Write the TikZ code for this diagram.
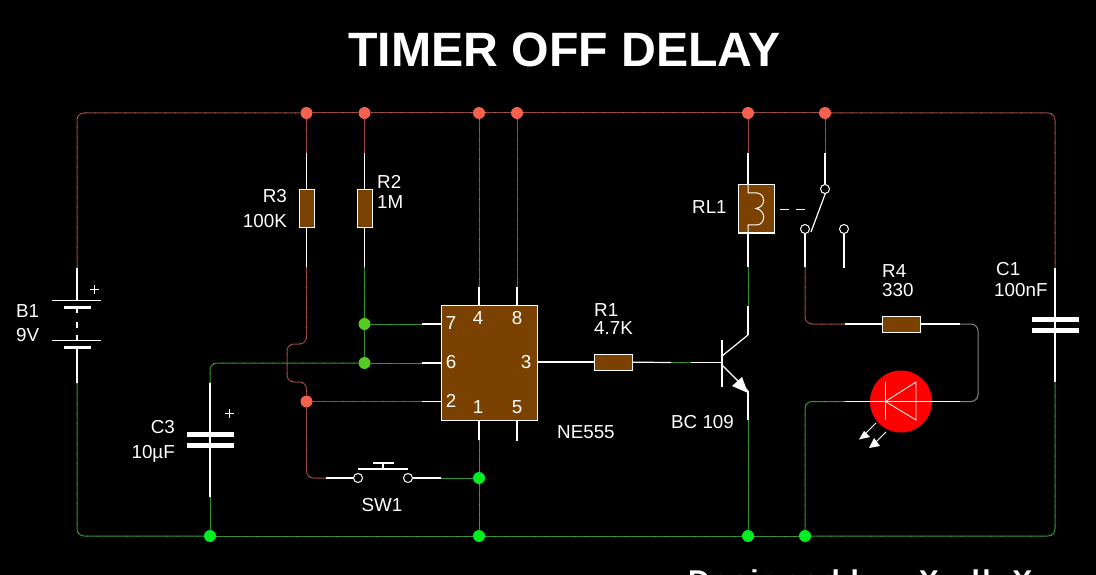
\documentclass[tikz,border=0pt]{standalone}
\usepackage{fontspec}
\setmainfont{Liberation Sans}
\definecolor{wirered}{HTML}{94443C}
\definecolor{wiregreen}{HTML}{2F8F2F}
\definecolor{wiregrey}{HTML}{7F8A72}
\definecolor{flecklight}{HTML}{D8C8B8}
\definecolor{dotred}{HTML}{F5614C}
\definecolor{dotlime}{HTML}{55CC22}
\definecolor{dotgreen}{HTML}{00EE22}
\definecolor{partbrown}{HTML}{7A4100}
\tikzset{
  fleck/.style={postaction={draw=flecklight, draw opacity=0.4, line width=1pt, dash pattern=on 1pt off 9pt}},
  redwire/.style={wirered, line width=1pt, rounded corners=7pt, fleck},
  greenwire/.style={wiregreen, line width=1pt, rounded corners=7pt, fleck},
  greywire/.style={wiregrey, line width=1pt, rounded corners=7pt},
  whitewire/.style={white, line width=1.2pt},
  reddot/.style={circle, fill=dotred, inner sep=0pt, minimum size=12pt},
  limedot/.style={circle, fill=dotlime, inner sep=0pt, minimum size=12pt},
  greendot/.style={circle, fill=dotgreen, inner sep=0pt, minimum size=12pt},
  part/.style={draw=white, fill=partbrown, line width=1pt, inner sep=0pt, outer sep=0pt},
  contact/.style={circle, draw=white, fill=black, line width=1pt, inner sep=0pt, minimum size=9pt},
  lbl/.style={text=white, inner sep=0pt, font=\fontsize{18.8}{20}\selectfont},
  pinlbl/.style={lbl, anchor=base},
}
\begin{document}
\begin{tikzpicture}[x=1pt,y=-1pt]
  \fill[black] (0,0) rectangle (1096,575);
  \path[use as bounding box, clip] (0,0) rectangle (1096,575);

  % junctions
  \node[reddot] (dA) at (306.5,113) {};
  \node[reddot] (dB) at (364.5,113) {};
  \node[reddot] (dC) at (479,113) {};
  \node[reddot] (dD) at (517,113) {};
  \node[reddot] (dE) at (748,113) {};
  \node[reddot] (dF) at (825,113) {};
  \node[reddot] (dJ) at (306.5,401.5) {};
  \node[limedot] (dG) at (364.5,324) {};
  \node[limedot] (dH) at (364.5,363) {};
  \node[greendot] (dK) at (479,478) {};
  \node[greendot] (dL) at (479,536) {};
  \node[greendot] (dM) at (210,536) {};
  \node[greendot] (dN) at (748,536) {};
  \node[greendot] (dP) at (805,536) {};

  % parts
  \node[part, minimum width=15pt, minimum height=38pt] (R3) at (306.5,209) {};
  \node[part, minimum width=15pt, minimum height=38pt] (R2) at (364.5,209) {};
  \node[part, minimum width=38pt, minimum height=16pt] (R1) at (613,362) {};
  \node[part, minimum width=38pt, minimum height=16pt] (R4) at (901.5,324) {};
  \node[part, minimum width=96pt, minimum height=115pt] (IC) at (489.5,362.5) {};
  \node[part, minimum width=36pt, minimum height=48pt] (RL1) at (756,209) {};
  \node[circle, fill=red, inner sep=0pt, minimum size=62pt] (LED) at (901,401.5) {};
  \node[contact] (swa) at (358,478) {};
  \node[contact] (swb) at (408,478) {};
  \node[contact] (rla) at (825,189) {};
  \node[contact] (rlb) at (805,229) {};
  \node[contact] (rlc) at (844,229) {};

  % wire ends
  \coordinate (b1t) at (77,268);
  \coordinate (b1b) at (77,383);
  \coordinate (c1t) at (1055,268);
  \coordinate (c1b) at (1055,382);
  \coordinate (c3t) at (210,383);
  \coordinate (c3b) at (210,497);
  \coordinate (r3t) at (306.5,153);
  \coordinate (r3b) at (306.5,267);
  \coordinate (r2t) at (364.5,153);
  \coordinate (r2b) at (364.5,267);
  \coordinate (p4) at (479,287);
  \coordinate (p8) at (517,287);
  \coordinate (p1) at (479,440);
  \coordinate (p5) at (517,441);
  \coordinate (p7) at (422,324);
  \coordinate (p6) at (422,363);
  \coordinate (p2) at (422,401.5);
  \coordinate (swl) at (326,478);
  \coordinate (swr) at (441,478);
  \coordinate (qa) at (671,362.5);
  \coordinate (qb) at (691,362.5);
  \coordinate (qbase) at (722,362.5);
  \coordinate (qc) at (748,335);
  \coordinate (qe) at (748,391);
  \coordinate (qw) at (748,420);
  \coordinate (rlt) at (748,153);
  \coordinate (rlm) at (825,153);
  \coordinate (rlg) at (748,267);
  \coordinate (rlh) at (748,306);
  \coordinate (swo) at (805,267);
  \coordinate (r4l) at (845,324);
  \coordinate (r4r) at (960,324);
  \coordinate (ledl) at (845,401.5);
  \coordinate (ledr) at (960,401.5);

  % supply rails
  \draw[redwire] (b1t) |- (dA);
  \draw[redwire] (dA) -- (dB);
  \draw[redwire] (dB) -- (dC);
  \draw[redwire] (dC) -- (dD);
  \draw[redwire] (dD) -- (dE);
  \draw[redwire] (dE) -- (dF);
  \draw[redwire] (dF) -| (c1t);
  \draw[greenwire] (b1b) |- (dM);
  \draw[greenwire] (dM) -- (dL);
  \draw[greenwire] (dL) -- (dN);
  \draw[greenwire] (dN) -- (dP);
  \draw[greenwire] (dP) -| (c1b);

  % B1
  \draw[whitewire] (b1t) -- (77,300);
  \draw[whitewire] (77,307) -- (77,313);
  \draw[whitewire] (77,322) -- (77,328);
  \draw[whitewire] (77,335) -- (77,340);
  \draw[whitewire] (77,347) -- (b1b);
  \draw[white, line width=1pt] (52,300.5) -- (101,300.5);
  \draw[white, line width=3pt] (64,307.5) -- (91,307.5);
  \draw[white, line width=1pt] (52,340.5) -- (101,340.5);
  \draw[white, line width=3pt] (64,347.5) -- (91,347.5);
  \draw[white, line width=1pt] (90,289.5) -- (99,289.5);
  \draw[white, line width=1pt] (94.5,285) -- (94.5,294);

  % C1
  \draw[whitewire] (c1t) -- (c1b);
  \draw[white, line width=5pt] (1032,319.5) -- (1079,319.5);
  \draw[white, line width=5pt] (1032,330.5) -- (1079,330.5);

  % C3
  \draw[greenwire] (c3t) |- (dH);
  \draw[greenwire] (c3b) -- (dM);
  \draw[whitewire] (c3t) -- (c3b);
  \draw[white, line width=5pt] (187,434.5) -- (234,434.5);
  \draw[white, line width=5pt] (187,445.5) -- (234,445.5);
  \draw[white, line width=1pt] (224.5,413.5) -- (233.5,413.5);
  \draw[white, line width=1pt] (229,409) -- (229,418);

  % R2 R3
  \draw[redwire] (dA) -- (r3t);
  \draw[whitewire] (r3t) -- (R3);
  \draw[whitewire] (R3) -- (r3b);
  \draw[redwire] (r3b) -- (306.5,344) -- (287,344) -- (287,382) -- (306.5,382) -- (dJ);
  \draw[redwire] (dB) -- (r2t);
  \draw[whitewire] (r2t) -- (R2);
  \draw[whitewire] (R2) -- (r2b);
  \draw[greenwire] (r2b) -- (dG);
  \draw[greenwire] (dG) -- (dH);

  % NE555
  \draw[greenwire] (dG) -- (p7);
  \draw[whitewire] (p7) -- (p7 -| IC.west);
  \draw[greenwire] (dH) -- (p6);
  \draw[whitewire] (p6) -- (p6 -| IC.west);
  \draw[redwire] (dJ) -- (p2);
  \draw[whitewire] (p2) -- (p2 -| IC.west);
  \draw[redwire] (dC) -- (p4);
  \draw[whitewire] (p4) -- (p4 |- IC.north);
  \draw[redwire] (dD) -- (p8);
  \draw[whitewire] (p8) -- (p8 |- IC.north);
  \draw[whitewire] (p1 |- IC.south) -- (p1);
  \draw[greenwire] (p1) -- (dK);
  \draw[greenwire] (dK) -- (dL);
  \draw[whitewire] (p5 |- IC.south) -- (p5);

  % SW1
  \draw[redwire] (dJ) |- (swl);
  \draw[whitewire] (swl) -- (swa);
  \draw[whitewire] (swb) -- (swr);
  \draw[greenwire] (swr) -- (dK);
  \draw[whitewire] (358,469) -- (408,469);
  \draw[whitewire] (383,469) -- (383,463);
  \draw[whitewire] (373,463) -- (394,463);

  % R1 and BC 109
  \draw[whitewire] (IC.east |- R1) -- (R1);
  \draw[whitewire] (R1) -- (qa);
  \draw[greenwire] (qa) -- (qb);
  \draw[whitewire] (qb) -- (qbase);
  \draw[whitewire] (722,340) -- (722,387);
  \draw[whitewire] (722,356) -- (qc);
  \draw[whitewire] (722,365) -- (qe);
  \fill[white] (748,393) -- (732,386) -- (742,377) -- cycle;
  \draw[whitewire] (qe) -- (qw);
  \draw[greenwire] (qw) -- (dN);

  % RL1
  \draw[redwire] (dE) -- (rlt);
  \draw[whitewire] (rlt) -- (748,185);
  \draw[white, line width=1pt] (748,185) -- (748,193) -- (757,193)
    .. controls (766,194) and (766,207) .. (756,208.5)
    .. controls (766,210) and (766,224) .. (757,225) -- (748,225) -- (748,233);
  \draw[whitewire] (748,233) -- (rlg);
  \draw[greenwire] (rlg) -- (rlh);
  \draw[whitewire] (rlh) -- (qc);
  \draw[redwire] (dF) -- (rlm);
  \draw[whitewire] (rlm) -- (rla);
  \draw[whitewire] (825.5,193) -- (811,232);
  \draw[whitewire] (780,209.5) -- (789,209.5);
  \draw[whitewire] (796,209.5) -- (805,209.5);
  \draw[whitewire] (rlc) -- (844,268);
  \draw[whitewire] (rlb) -- (swo);
  \draw[redwire] (swo) |- (r4l);

  % R4 and LED
  \draw[whitewire] (r4l) -- (R4);
  \draw[whitewire] (R4) -- (r4r);
  \draw[greywire] (r4r) -- (978,324) -- (978,401.5) -- (ledr);
  \draw[whitewire] (ledl) -- (ledr);
  \draw[greenwire] (ledl) -| (dP);
  \draw[white, line width=0.8pt] (885.5,382) -- (885.5,420);
  \draw[white, line width=0.8pt] (885.5,401.5) -- (916,382) -- (916,420) -- cycle;
  \draw[white, line width=1pt] (876,423) -- (864,435);
  \fill[white] (859,439.5) -- (864,431) -- (870,437) -- cycle;
  \draw[white, line width=1pt] (886,432) -- (874,444);
  \fill[white] (869,448) -- (874,438) -- (880,446) -- cycle;

  % labels
  \node[text=white, font=\fontsize{48.2}{50}\selectfont\bfseries, inner sep=0pt, anchor=base west] (title) at (348,67) {TIMER OFF DELAY};
  \node[lbl, anchor=base east] (lR3) at (287,203) {R3};
  \node[lbl, anchor=base east] (vR3) at (287,227) {100K};
  \node[lbl, anchor=base west] (lR2) at (377,189) {R2};
  \node[lbl, anchor=base west] (vR2) at (377,208) {1M};
  \node[lbl, anchor=base west] (lB1) at (16,317) {B1};
  \node[lbl, anchor=base west] (vB1) at (16,341) {9V};
  \node[lbl, anchor=base east] (lC3) at (175,433) {C3};
  \node[lbl, anchor=base east] (vC3) at (175,458) {10µF};
  \node[lbl, anchor=base] (lSW1) at (382,511) {SW1};
  \node[lbl, anchor=base west] (lR1) at (594,316) {R1};
  \node[lbl, anchor=base west] (vR1) at (594,334) {4.7K};
  \node[lbl, anchor=base west] (lIC) at (557,438) {NE555};
  \node[lbl, anchor=base west] (lQ) at (671,428) {BC 109};
  \node[lbl, anchor=base west] (lRL1) at (692,214) {RL1};
  \node[lbl, anchor=base west] (lR4) at (882,277) {R4};
  \node[lbl, anchor=base west] (vR4) at (882,296) {330};
  \node[lbl, anchor=base west] (lC1) at (996,276) {C1};
  \node[lbl, anchor=base west] (vC1) at (994,296) {100nF};
  \node[pinlbl] (n7) at (451,329) {7};
  \node[pinlbl] (n4) at (478,324) {4};
  \node[pinlbl] (n8) at (517,324) {8};
  \node[pinlbl] (n6) at (451,368) {6};
  \node[pinlbl] (n3) at (526,368) {3};
  \node[pinlbl] (n2) at (451,407) {2};
  \node[pinlbl] (n1) at (478,413) {1};
  \node[pinlbl] (n5) at (517,413) {5};
  \node[text=white, font=\fontsize{30}{32}\selectfont\bfseries\addfontfeature{LetterSpace=8}, inner sep=0pt, anchor=base west] (credit) at (688,591) {Designed by\hspace{20pt} X\hspace{22pt} ll\hspace{11pt} X};
\end{tikzpicture}
\end{document}
